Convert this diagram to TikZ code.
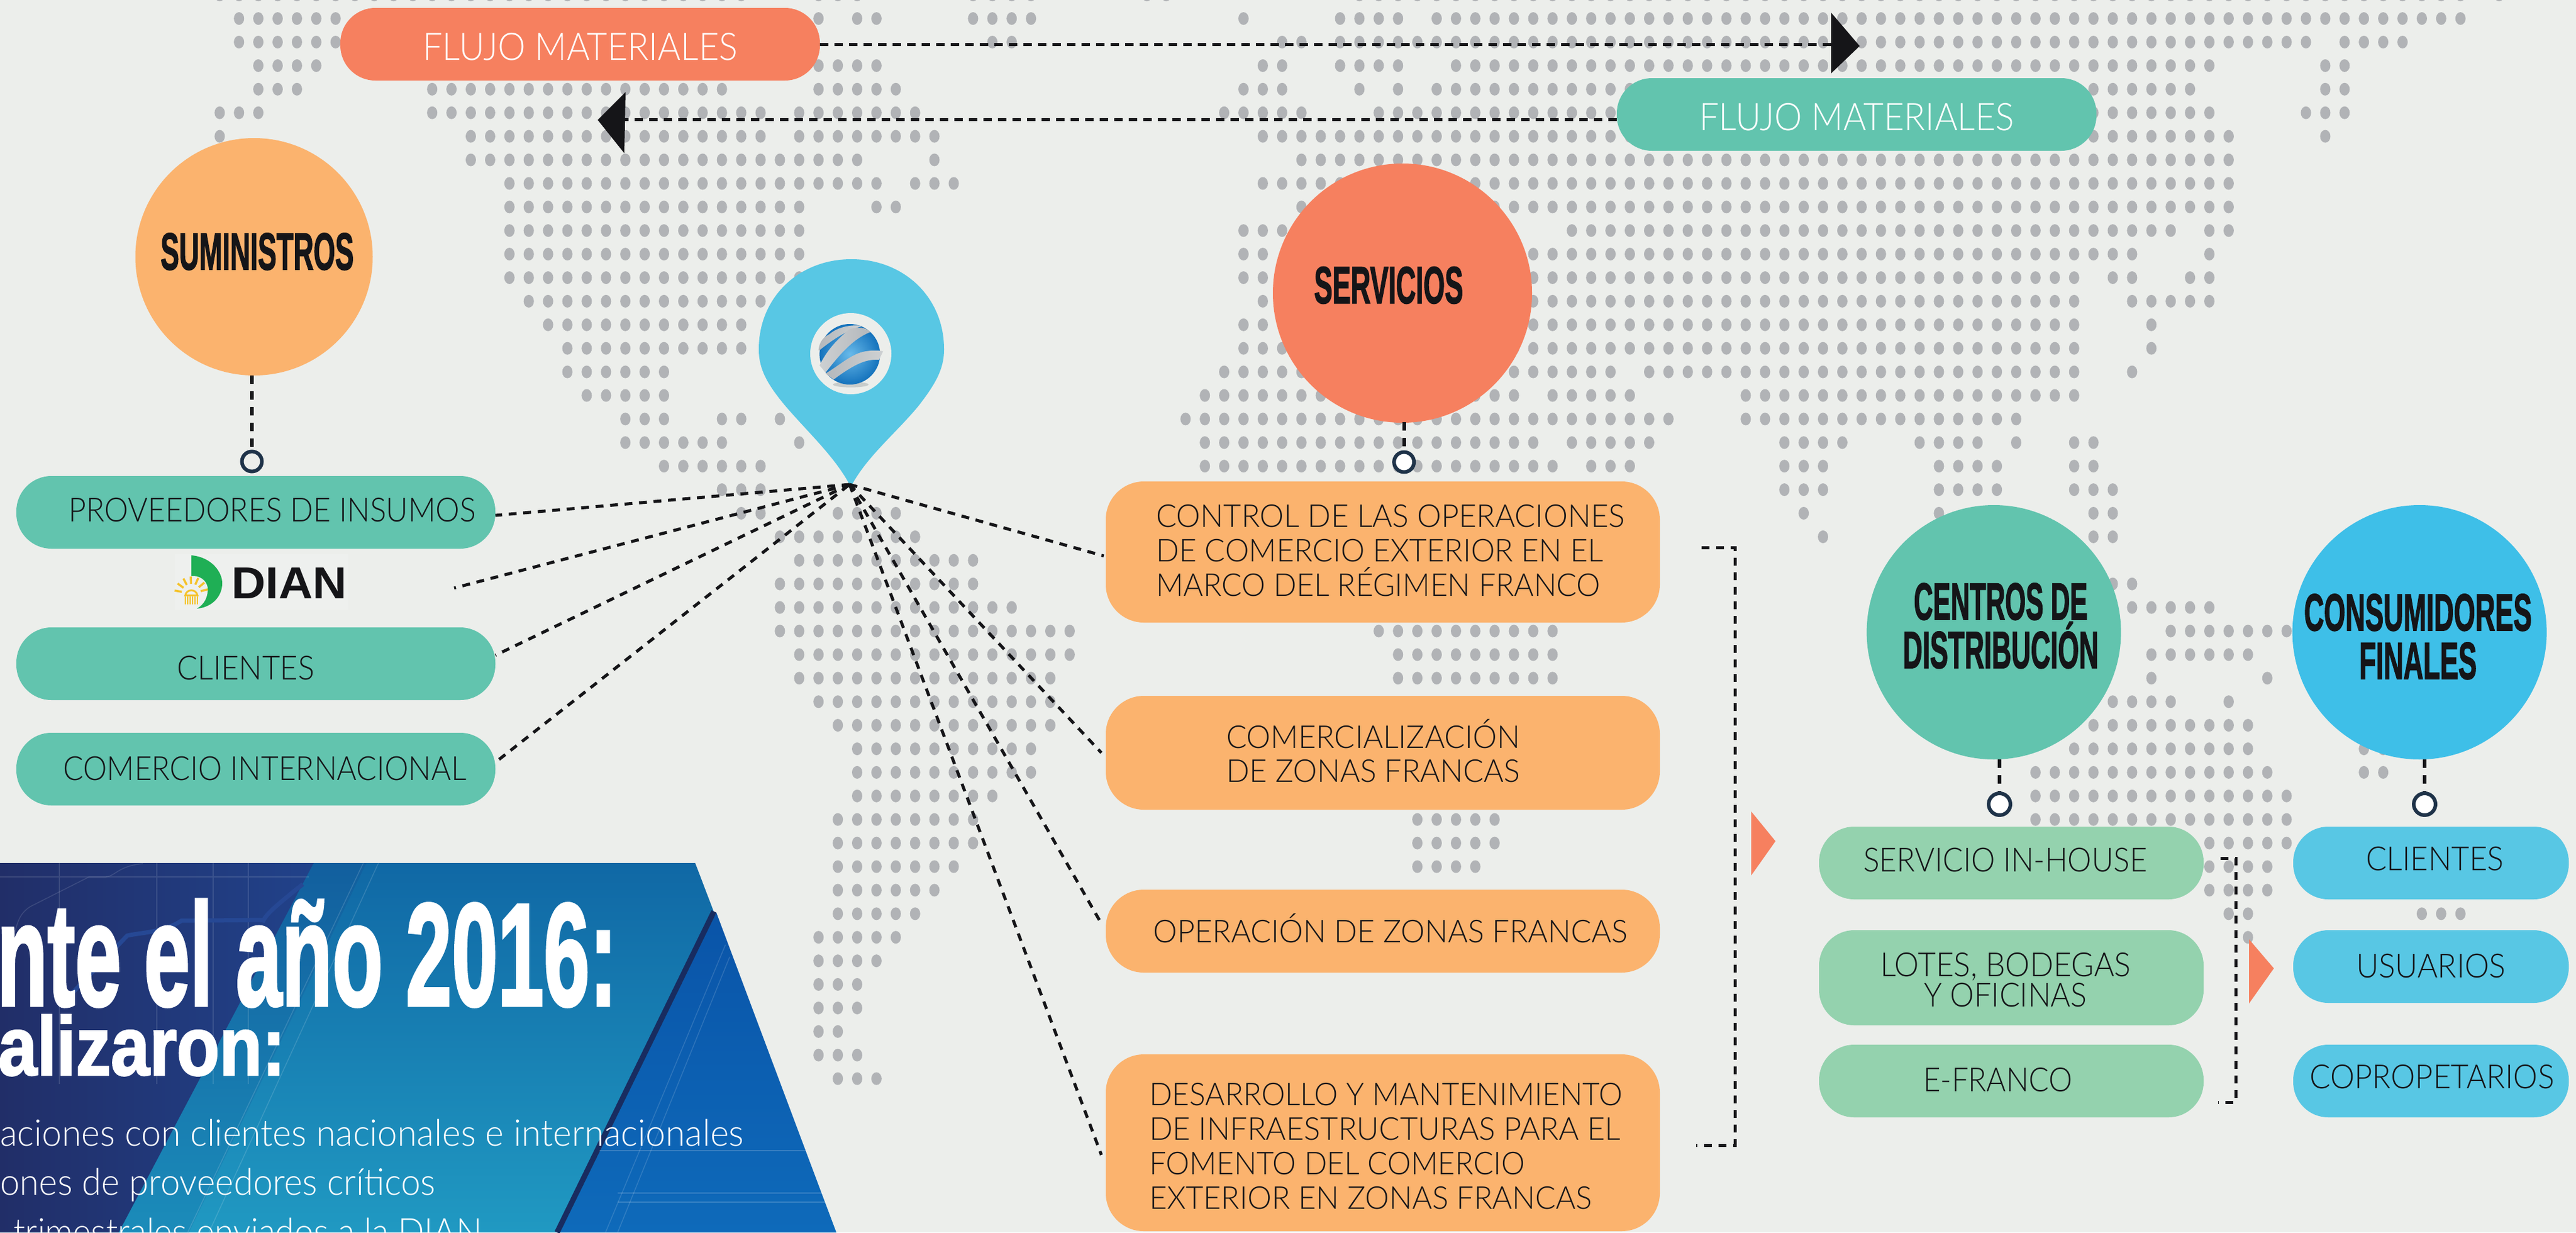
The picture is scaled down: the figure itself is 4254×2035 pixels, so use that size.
\documentclass[tikz,border=0pt]{standalone}
\usepackage{graphicx}
\usepackage{fontspec}
\setmainfont{Liberation Sans}
\newfontfamily\lt{Lato Light}
\newfontfamily\hv[BoldFeatures={FakeBold=2.2}]{Liberation Sans}
\newcommand\fw[2]{\resizebox{#1pt}{\height}{#2}}
\newcommand\drow[2]{\foreach \a/\b in {#2}{\foreach \c in {\a,...,\b}{\fill[dotc] (11.9+31.9*\c,30.6+38.9*#1) ellipse [x radius=8.5,y radius=10.5];}}}
\definecolor{bgc}{HTML}{ECEEEB}
\definecolor{dotc}{HTML}{B1B3B6}
\definecolor{redc}{HTML}{F6805F}
\definecolor{orac}{HTML}{FBB36E}
\definecolor{teac}{HTML}{62C4AE}
\definecolor{grec}{HTML}{94D2AE}
\definecolor{bluc}{HTML}{3EBFE8}
\definecolor{lbuc}{HTML}{58C7E4}
\definecolor{inkc}{HTML}{151518}
\definecolor{ringc}{HTML}{1F3349}
\definecolor{pmidt}{HTML}{1068A5}
\definecolor{pmidb}{HTML}{2099C2}
\definecolor{pbandt}{HTML}{125F9E}
\definecolor{pbandb}{HTML}{1B8CBA}
\definecolor{pleftl}{HTML}{212E68}
\definecolor{pleftr}{HTML}{21428A}
\definecolor{prigt}{HTML}{0A54A8}
\definecolor{prigb}{HTML}{0E6ABA}
\definecolor{pline}{HTML}{182C60}
\definecolor{ptrace}{HTML}{264894}
\definecolor{gshad}{HTML}{C8CCCB}
\definecolor{gballi}{HTML}{68BAEA}
\definecolor{gballo}{HTML}{1472BC}
\definecolor{gbanda}{HTML}{B4B8BC}
\definecolor{gbandb}{HTML}{CDD0D2}
\definecolor{dianbg}{HTML}{EEF0EE}
\definecolor{diang}{HTML}{1FAF55}
\definecolor{diany}{HTML}{F5C32C}
\tikzset{
  pillbox/.style n args={3}{rectangle,inner sep=0pt,fill=#1,minimum width=#2,minimum height=#3,rounded corners=58pt},
  roundbox/.style n args={2}{rectangle,inner sep=0pt,fill=orac,minimum width=915pt,minimum height=#1,rounded corners=#2},
  bigdisc/.style n args={2}{circle,inner sep=0pt,fill=#1,minimum size=#2},
  ringdot/.style n args={2}{circle,inner sep=0pt,draw=ringc,line width=6pt,fill=#1,minimum size=#2},
  dl/.style={draw=inkc,line width=5pt,dash pattern=on 13pt off 11pt},
  dv/.style={draw=inkc,line width=6pt,dash pattern=on 14pt off 12pt},
  lab/.style={inner sep=0pt,text=inkc,font=\lt\fontsize{55}{57}\selectfont},
  lab51/.style={inner sep=0pt,text=inkc,font=\lt\fontsize{52}{57}\selectfont},
  wlab/.style={inner sep=0pt,text=white,font=\lt\fontsize{63}{66}\selectfont},
  hlab/.style={inner sep=0pt,text=inkc,font=\hv\bfseries\fontsize{86}{80}\selectfont},
  blab/.style={inner sep=0pt,text=white,font=\lt\fontsize{61}{62}\selectfont},
  tri/.style={fill=inkc},
}
\begin{document}
\begin{tikzpicture}[x=1pt,y=-1pt]
\useasboundingbox (0,0) rectangle (4254,2035);
\clip (0,0) rectangle (4254,2035);
\fill[bgc] (0,0) rectangle (4254,2035);
% dot map
\drow{-1}{11/38,42/44,50/53,59/60,70/127,129/129}
\drow{0}{12/17,42/42,44/45,50/53,64/64,69/72,74/127}
\drow{1}{12/17,51/52,66/67,69/119,121/124}
\drow{2}{13/16,42/45,65/66,69/72,75/114,120/121}
\drow{3}{13/15,22/37,42/46,64/66,70/70,72/72,74/113,120/121}
\drow{4}{11/13,22/39,41/47,63/67,71/114,119/121}
\drow{5}{11/11,24/39,41/48,65/115,120/120}
\drow{6}{24/44,48/48,67/115}
\drow{7}{26/45,47/49,65/115}
\drow{8}{26/41,45/46,67/115}
\drow{9}{26/41,64/66,81/112,114/115}
\drow{10}{26/41,64/65,79/110,114/114}
\drow{11}{26/41,64/65,79/107,109/110,113/114}
\drow{12}{27/39,65/65,79/107,110/114}
\drow{13}{28/38,64/65,79/107,111/111}
\drow{14}{29/38,64/66,78/107,111/111}
\drow{15}{29/34,63/83,85/107,110/110}
\drow{16}{30/34,62/78,80/84,90/107}
\drow{17}{32/34,37/38,40/40,61/86,90/104}
\drow{18}{32/37,41/41,62/79,81/85,92/95,99/102,104/104,107/108}
\drow{19}{34/39,62/80,82/84,92/94,100/103,107/108}
\drow{20}{37/39,92/94,100/103,107/109}
\drow{21}{38/39,43/46,93/93,100/100,108/109}
\drow{22}{40/47,94/94,108/109}
\drow{23}{41/50}
\drow{24}{40/50,109/110}
\drow{25}{40/52,110/114}
\drow{26}{40/55,71/80,112/118}
\drow{27}{41/55,72/80,111/116}
\drow{28}{41/54,72/80,111/111,117/117}
\drow{29}{42/54,109/112,115/115}
\drow{30}{43/54,108/116}
\drow{31}{44/53,107/116,122/123}
\drow{32}{44/53,105/117,122/123}
\drow{33}{44/51,105/118}
\drow{34}{43/50,73/77,105/118}
\drow{35}{43/50,73/77,114/118}
\drow{36}{43/49,73/76,114/117}
\drow{37}{43/48,114/117}
\drow{38}{43/47,115/116,125/127}
\drow{39}{42/46,116/116}
\drow{40}{42/45}
\drow{41}{42/44}
\drow{42}{42/44}
\drow{43}{42/43}
\drow{44}{42/44}
\drow{45}{43/45}
% blue panel
\shade[top color=pmidt,bottom color=pmidb]
  (0,1425) -- (1148,1425) -- (1381,2035) -- (0,2035) -- cycle;
\shade[top color=pbandt,bottom color=pbandb]
  (518,1425) -- (605,1425) -- (312,2035) -- (196,2035) -- cycle;
\shade[left color=pleftl,right color=pleftr]
  (0,1425) -- (518,1425) -- (196,2035) -- (0,2035) -- cycle;
\shade[top color=prigt,bottom color=prigb]
  (1183,1507) -- (1381,2035) -- (925,2035) -- cycle;
\draw[line width=9pt,pline] (1179,1505) -- (920,2035);
\draw[white,opacity=.14,line width=1.5pt] (600,1425) -- (310,2035) (625,1425) -- (345,2035);
\draw[white,opacity=.14,line width=1.5pt] (1198,1560) -- (1000,2035) (1205,1580) -- (1020,2035);
\draw[white,opacity=.12,line width=1.5pt] (0,1448) -- (510,1448) (98,1425) -- (98,1790) (259,1425) -- (259,1790) (352,1425) -- (352,1790) (410,1425) -- (410,1790);
\draw[white,opacity=.12,line width=1.5pt] (236,1426) .. controls (195,1430) and (190,1447) .. (175,1448) -- (147,1448) -- (50,1497) .. controls (30,1510) and (28,1525) .. (20,1560);
\draw[ptrace,line width=7pt] (500,1460) .. controls (450,1500) and (440,1510) .. (435,1520) .. controls (430,1518) and (420,1520) .. (300,1520) .. controls (270,1540) and (230,1540) .. (210,1545) -- (100,1660);
\draw[white,opacity=.18,line width=2pt] (990,1900) -- (1335,1900) (1020,1970) -- (1360,1970) (1020,1985) -- (1365,1985);
% texts of the panel
\node[inner sep=0pt,anchor=base west,text=white,font=\hv\bfseries\fontsize{241}{245}\selectfont] (t1) at (-5,1660) {\fw{1024}{nte el año 2016:}};
\node[inner sep=0pt,anchor=base west,text=white,font=\hv\bfseries\fontsize{137}{140}\selectfont] (t2) at (-3,1775) {\fw{474}{alizaron:}};
\node[blab,anchor=base west] (t3) at (0,1892) {\fw{1228}{aciones con clientes nacionales e internacionales}};
\node[blab,anchor=base west] (t4) at (0,1973) {\fw{719}{ones de proveedores críticos}};
\node[blab,anchor=base west] (t5) at (22,2055) {\fw{774}{trimestrales enviados a la DIAN}};
% flow pills
\node[pillbox={redc}{792pt}{120pt}] (flujoa) at (958,73) {};
\node[pillbox={teac}{792pt}{120pt}] (flujob) at (3066,189) {};
\node[wlab,anchor=base west] (flujoat) at (698,99) {\fw{520}{FLUJO MATERIALES}};
\node[wlab,anchor=base west] (flujobt) at (2806,215) {\fw{520}{FLUJO MATERIALES}};
\coordinate (arrR) at (3024,73);
\coordinate (arrL) at (1032,197);
\draw[dl,dash pattern=on 14pt off 10pt] (flujoa.east) -- (arrR);
\draw[dl,dash pattern=on 14pt off 10pt] ([yshift=-8pt]flujob.west) -- (arrL);
\fill[tri] (3024,21) -- (3071,76) -- (3024,121) -- cycle;
\fill[tri] (1033,152) -- (987,198) -- (1031,253) -- cycle;
% pin
\fill[lbuc] (1405,804) .. controls (1380,755) and (1335,715) .. (1295,668) .. controls (1268,635) and (1253,610) .. (1253,577) .. controls (1253,490) and (1320,428) .. (1406,428) .. controls (1492,428) and (1559,490) .. (1559,577) .. controls (1559,610) and (1544,635) .. (1517,670) .. controls (1480,715) and (1430,755) .. (1405,804) -- cycle;
\node[circle,fill=bgc,inner sep=0pt,minimum size=134pt] (pindisc) at (1405,584) {};
\begin{scope}[shift={(1320,500)},x=.33333pt,y=-.33333pt]
\fill[gshad] (255,405) ellipse [x radius=88,y radius=14];
\shade[inner color=gballi,outer color=gballo] (250,255) circle [radius=150];
\shade[left color=gbanda,right color=gbandb] (95,235) .. controls (100,190) and (120,170) .. (150,155) .. controls (190,120) and (260,105) .. (315,115) .. controls (250,130) and (180,170) .. (100,235) -- cycle;
\shade[left color=gbandb,right color=gbanda] (100,310) .. controls (130,250) and (170,195) .. (250,130) .. controls (290,120) and (330,120) .. (352,145) .. controls (260,180) and (190,270) .. (130,345) -- cycle;
\shade[left color=gbanda,right color=gbandb] (130,350) .. controls (200,310) and (260,250) .. (330,240) .. controls (360,235) and (390,235) .. (415,240) -- (395,282) .. controls (340,280) and (290,290) .. (170,380) -- cycle;
\end{scope}
\coordinate (hub) at (1403,800);
% discs
\node[bigdisc={orac}{392pt}] (sum) at (419.5,424) {};
\node[hlab,anchor=base west] (sumt) at (265,445) {\fw{319}{SUMINISTROS}};
\node[bigdisc={redc}{428pt}] (ser) at (2316,484) {};
\node[hlab,anchor=base west] (sert) at (2170,500.6) {\fw{246}{SERVICIOS}};
\node[bigdisc={teac}{420pt}] (cen) at (3292.6,1044) {};
\node[hlab,anchor=south,align=center] (cent) at (3304,1104) {\fw{287}{CENTROS DE}\\\fw{323}{DISTRIBUCIÓN}};
\node[bigdisc={bluc}{420pt}] (con) at (3995.6,1044) {};
\node[hlab,anchor=south,align=center] (cont) at (3993,1122) {\fw{376}{CONSUMIDORES}\\\fw{194}{FINALES}};
% rings
\node[ringdot={bgc}{33pt}] (sumr) at (416,762) {};
\node[ringdot={white}{33pt}] (serr) at (2318.6,763) {};
\node[ringdot={white}{36pt}] (cenr) at (3302,1328) {};
\node[ringdot={white}{36pt}] (conr) at (4004,1328) {};
\draw[dv] (416,620) -- (sumr.north);
\draw[dv] (2318.6,697) -- (serr.north);
\draw[dv] (3302,1254) -- (cenr.north);
\draw[dv] (4004,1254) -- (conr.north);
% left pills
\node[pillbox={teac}{791pt}{120pt}] (prov) at (422.5,846) {};
\node[lab,anchor=base west] (provt) at (113,861) {\fw{673}{PROVEEDORES DE INSUMOS}};
\node[pillbox={teac}{791pt}{120pt}] (clie) at (422.5,1096) {};
\node[lab,anchor=base west] (cliet) at (292,1122) {\fw{227}{CLIENTES}};
\node[pillbox={teac}{791pt}{120pt}] (come) at (422.5,1270) {};
\node[lab,anchor=base west] (comet) at (104,1288) {\fw{666}{COMERCIO INTERNACIONAL}};
% DIAN logo
\fill[dianbg] (289,915) rectangle (575,1007);
\fill[diang] (316,917) .. controls (350,920) and (367,945) .. (367,963) .. controls (367,985) and (350,1003) .. (325,1005) .. controls (338,998) and (344,985) .. (343,970) .. controls (341,958) and (330,950) .. (316,951) -- cycle;
\foreach \g in {190,216,242,268,294,320,346}{\draw[diany,line width=3.5pt] ([shift={(316,980)}]\g:16) -- ([shift={(316,980)}]\g:28);}
\draw[diany,line width=3pt] (306,983) .. controls (308,972) and (324,972) .. (326,983) -- cycle;
\foreach \g in {306,310,314,318,322,326}{\draw[diany,line width=2.5pt] (\g,985) -- (\g,998);}
\node[inner sep=0pt,anchor=base west,text=inkc,font=\normalfont\bfseries\fontsize{74}{76}\selectfont] (dian) at (382,988) {\fw{191}{DIAN}};
\coordinate (dianend) at (750,971);
% orange boxes
\node[roundbox={233pt}{63pt}] (ctrl) at (2283.5,911.5) {};
\node[lab51,anchor=south west,align=left] (ctrlt) at (1909,985) {\fw{774}{CONTROL DE LAS OPERACIONES}\\\fw{738}{DE COMERCIO EXTERIOR EN EL}\\\fw{734}{MARCO DEL RÉGIMEN FRANCO}};
\node[roundbox={188pt}{63pt}] (merc) at (2283.5,1243) {};
\node[lab51,anchor=south west,align=left] (merct) at (2025,1292) {\fw{485}{COMERCIALIZACIÓN}\\[-1pt]\fw{485}{DE ZONAS FRANCAS}};
\node[roundbox={137pt}{63pt}] (oper) at (2283.5,1537.5) {};
\node[lab51,anchor=base west] (opert) at (1904.6,1556) {\fw{783}{OPERACIÓN DE ZONAS FRANCAS}};
\node[roundbox={292pt}{63pt}] (desa) at (2283.5,1887) {};
\node[lab51,anchor=south west,align=left] (desat) at (1898,1997) {\fw{781}{DESARROLLO Y MANTENIMIENTO}\\\fw{778}{DE INFRAESTRUCTURAS PARA EL}\\\fw{620}{FOMENTO DEL COMERCIO}\\\fw{731}{EXTERIOR EN ZONAS FRANCAS}};
% green pills
\node[pillbox={grec}{635pt}{120pt}] (inho) at (3321.5,1425) {};
\node[lab,anchor=base west] (inhot) at (3077,1439) {\fw{469}{SERVICIO IN-HOUSE}};
\node[pillbox={grec}{635pt}{157pt}] (lote) at (3321.5,1614.5) {};
\node[lab,anchor=south,align=center,font=\lt\fontsize{55}{50}\selectfont] (lotet) at (3312,1663) {\fw{414}{LOTES, BODEGAS}\\\fw{269}{Y OFICINAS}};
\node[pillbox={grec}{635pt}{120pt}] (efra) at (3321.5,1785) {};
\node[lab,anchor=base west] (efrat) at (3176,1802) {\fw{246}{E-FRANCO}};
% blue pills
\node[pillbox={lbuc}{455pt}{120pt}] (ucli) at (4014.5,1425) {};
\node[lab,anchor=base west] (uclit) at (3907,1437) {\fw{228}{CLIENTES}};
\node[pillbox={lbuc}{455pt}{120pt}] (usua) at (4014.5,1596) {};
\node[lab,anchor=base west] (usuat) at (3891,1614) {\fw{247}{USUARIOS}};
\node[pillbox={lbuc}{455pt}{120pt}] (copr) at (4014.5,1785) {};
\node[lab,anchor=base west] (coprt) at (3814,1797) {\fw{404}{COPROPETARIOS}};
% hub connectors
\draw[dl] (hub) -- ([yshift=-5pt]prov.east);
\draw[dl] (hub) -- (dianend);
\draw[dl] (hub) -- ([yshift=14pt]clie.east);
\draw[dl] ([xshift=6pt,yshift=16pt]come.east) -- (hub);
\draw[dl] (hub) -- ([xshift=-3pt,yshift=-6.5pt]ctrl.west);
\draw[dl] (hub) -- ([xshift=-7pt]merc.west);
\draw[dl] (hub) -- ([xshift=-9pt,yshift=16pt]oper.west);
\draw[dl] (hub) -- ([xshift=-7pt,yshift=-20pt]desa.west);
% brackets
\coordinate (ba) at (2810,904);
\coordinate (bb) at (2865,904);
\coordinate (bc) at (2865,1891);
\coordinate (bd) at (2801,1891);
\draw[dl] (ba) -- (bb) -- (bc) -- (bd);
\coordinate (ca) at (3667,1417);
\coordinate (cb) at (3692,1417);
\coordinate (cc) at (3692,1820);
\coordinate (cd) at (3663,1820);
\draw[dl] (ca) -- (cb) -- (cc) -- (cd);
% orange triangles
\fill[redc] (2892,1340) -- (2932,1389) -- (2892,1445.5) -- cycle;
\fill[redc] (3714,1551) -- (3755,1599) -- (3714,1657) -- cycle;
\end{tikzpicture}
\end{document}
